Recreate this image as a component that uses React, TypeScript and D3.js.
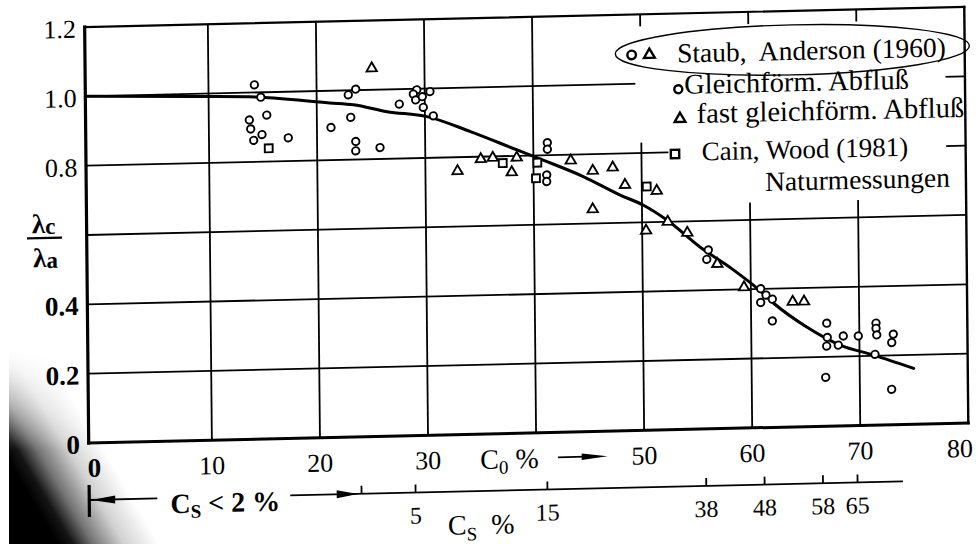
import React, { useEffect } from "react";
import * as d3 from "d3";

// ---------------- data ----------------
const xGridValues = [10, 20, 30, 40, 50, 60, 70];
const xTickValues = [0, 10, 20, 30, 50, 60, 70, 80];
const yGridValues = [0.2, 0.4, 0.6, 0.8, 1.0];
const yTickValues = [0, 0.2, 0.4, 0.8, 1.0, 1.2];
const yTickLabels = ["0", "0.2", "0.4", "0.8", "1.0", "1.2"];

// Staub, Anderson (1960) – gleichförmiger Abfluß (circles)
const gleichfoermig: [number, number][] = [
  [14.25, 1.022], [14.83, 0.986], [15.37, 0.934], [13.75, 0.921], [13.87, 0.895], [14.91, 0.878],
  [14.14, 0.862], [17.34, 0.867], [21.3, 0.894], [23.62, 1.003], [22.93, 0.987], [23.14, 0.922],
  [23.58, 0.852], [23.57, 0.825], [25.82, 0.833], [27.64, 0.957], [29.27, 0.997], [28.95, 0.985],
  [29.16, 0.968], [29.78, 0.977], [30.49, 0.991], [29.86, 0.946], [30.78, 0.921],
  [41.3, 0.836], [41.3, 0.817], [41.22, 0.743], [41.21, 0.724],
  [56.1, 0.516], [55.95, 0.489], [60.91, 0.401], [61.4, 0.382], [60.9, 0.361], [61.98, 0.37],
  [61.96, 0.307], [66.99, 0.297], [67.03, 0.256], [66.97, 0.231], [68.51, 0.259], [68.04, 0.233],
  [69.9, 0.258], [71.55, 0.294], [71.55, 0.279], [71.61, 0.26], [73.14, 0.261], [72.99, 0.237],
  [71.43, 0.204], [66.85, 0.141], [72.94, 0.102],
];

// Staub, Anderson (1960) – fast gleichförmiger Abfluß (triangles)
const fastGleichfoermig: [number, number][] = [
  [25.12, 1.062], [32.97, 0.76], [35.13, 0.793], [36.24, 0.796], [38.46, 0.795], [37.98, 0.753],
  [43.45, 0.783], [45.48, 0.752], [47.33, 0.76], [45.44, 0.641], [48.45, 0.709], [51.38, 0.69],
  [50.36, 0.576], [52.37, 0.6], [54.17, 0.567], [56.92, 0.475], [59.37, 0.406], [63.86, 0.361],
  [64.91, 0.361],
];

// Cain, Wood (1981) – Naturmessungen (squares)
const cainWood: [number, number][] = [
  [15.52, 0.838], [37.16, 0.78], [40.36, 0.779], [40.22, 0.734], [50.46, 0.703],
];

// fitted curve
const trendCurve: [number, number][] = [
  [-1.4, 1.0], [9.2, 0.992], [14.8, 0.986], [21.2, 0.965], [23.4, 0.958], [26.5, 0.936],
  [30.2, 0.919], [34.2, 0.873], [38.5, 0.817], [40.9, 0.786], [44.6, 0.736], [48.0, 0.68],
  [50.1, 0.65], [52.3, 0.605], [55.3, 0.526], [58.4, 0.457], [60.6, 0.402], [62.1, 0.358],
  [65.1, 0.288], [68.2, 0.233], [71.3, 0.202], [75.0, 0.161],
];

// secondary C_S axis: tick values and where they sit on the C_0 axis
const csTickValues = [2, 5, 15, 38, 48, 58, 65];
const csTickAtC0 = [23.8, 28.8, 41.0, 55.7, 61.1, 66.5, 69.7];
const csTickLabels = ["", "5", "15", "38", "48", "58", "65"];

const legendLabels = [
  "Staub,\u00a0 Anderson (1960)",
  "Gleichförm. Abfluß",
  "fast gleichförm. Abfluß",
  "Cain, Wood (1981)",
  "Naturmessungen",
];

// ---------------- layout ----------------
const W = 977;
const H = 544;
const X_MIN = -1.4;
const X_MAX = 80;
const FONT = '"Liberation Serif", "Times New Roman", Times, "DejaVu Serif", serif';
const SKEW = "matrix(1,-0.0228,0.0097,1,-4.3,2.03)";

const x = d3.scaleLinear().domain([X_MIN, X_MAX]).range([88.7, 968.3]);
const y = d3.scaleLinear().domain([0, 1.2]).range([443, 27]);

export default function App() {
  useEffect(() => {
    document.body.style.margin = "0";
  }, []);

  const curvePath = d3
    .line<[number, number]>()
    .x((d) => x(d[0]))
    .y((d) => y(d[1]))
    .curve(d3.curveMonotoneX)(trendCurve) as string;

  const triPath = d3.symbol().type(d3.symbolTriangle).size(46)() as string;
  const triLegend = d3.symbol().type(d3.symbolTriangle).size(50)() as string;
  const sqPath = d3.symbol().type(d3.symbolSquare).size(62)() as string;
  const sqLegend = d3.symbol().type(d3.symbolSquare).size(70)() as string;

  const csY = 500;
  const legendTextPos: [number, number][] = [
    [680.7, 76.1], [687.5, 107.5], [699.7, 136.9], [704.3, 174.5], [767.5, 206.4],
  ];
  const legendFontSize = [27.5, 28.5, 28.6, 27, 27.5];

  return (
    <svg
      width={W}
      height={H}
      viewBox={`0 0 ${W} ${H}`}
      style={{ position: "fixed", left: 0, top: 0, display: "block", background: "#fff", fontFamily: FONT }}
    >
      <defs>
        <linearGradient id="scanShadow" gradientUnits="userSpaceOnUse" x1={112} y1={463} x2={36} y2={508}>
          <stop offset="0" stopColor="#000" stopOpacity={0} />
          <stop offset="0.35" stopColor="#000" stopOpacity={0.18} />
          <stop offset="0.65" stopColor="#000" stopOpacity={0.55} />
          <stop offset="0.85" stopColor="#000" stopOpacity={0.92} />
          <stop offset="1" stopColor="#000" stopOpacity={1} />
        </linearGradient>
        <linearGradient id="shadowFade" gradientUnits="userSpaceOnUse" x1={0} y1={350} x2={0} y2={450}>
          <stop offset="0" stopColor="#000" />
          <stop offset="1" stopColor="#fff" />
        </linearGradient>
        <mask id="shadowMask" maskUnits="userSpaceOnUse" x={0} y={300} width={200} height={244}>
          <rect x={0} y={300} width={200} height={244} fill="url(#shadowFade)" />
        </mask>
      </defs>
      <rect x={0} y={0} width={W} height={H} fill="#fff" />
      <rect x={9} y={300} width={150} height={244} fill="url(#scanShadow)" mask="url(#shadowMask)" />

      <g transform={SKEW} style={{ fontFamily: FONT }}>
        {/* grid */}
        <g stroke="#000" strokeWidth={1.8}>
          {xGridValues.map((v) => (
            <line key={`gx${v}`} x1={x(v)} x2={x(v)} y1={y(0)} y2={y(1.2)} />
          ))}
          {yGridValues.map((v) => (
            <line key={`gy${v}`} x1={x(X_MIN)} x2={x(X_MAX)} y1={y(v)} y2={y(v)} />
          ))}
        </g>

        {/* white area behind the legend */}
        <rect x={x(49.5)} y={y(1.165)} width={x(78.2) - x(49.5)} height={y(0.83) - y(1.165)} fill="#fff" />
        <rect x={x(52.5)} y={y(0.83)} width={x(78.2) - x(52.5)} height={y(0.65) - y(0.83)} fill="#fff" />

        {/* frame */}
        <g stroke="#000" fill="none" strokeLinecap="square">
          <line x1={x(X_MIN)} x2={x(X_MAX)} y1={y(1.2)} y2={y(1.2)} strokeWidth={2.2} />
          <line x1={x(X_MAX)} x2={x(X_MAX)} y1={y(1.2)} y2={y(0)} strokeWidth={2.4} />
          <line x1={x(X_MIN)} x2={x(X_MAX)} y1={y(0)} y2={y(0)} strokeWidth={3} />
          <line x1={x(X_MIN)} x2={x(X_MIN)} y1={y(1.2)} y2={y(0)} strokeWidth={3.2} />
        </g>

        {/* curve */}
        <path d={curvePath} fill="none" stroke="#000" strokeWidth={3} strokeLinecap="round" />

        {/* markers */}
        <g stroke="#000" strokeWidth={1.9} fill="#fff">
          {gleichfoermig.map((d, i) => (
            <circle key={`c${i}`} cx={x(d[0])} cy={y(d[1])} r={3.7} />
          ))}
          {fastGleichfoermig.map((d, i) => (
            <path key={`t${i}`} d={triPath} transform={`translate(${x(d[0])},${y(d[1])})`} />
          ))}
          {cainWood.map((d, i) => (
            <path key={`s${i}`} d={sqPath} transform={`translate(${x(d[0])},${y(d[1])})`} />
          ))}
        </g>

        {/* y tick labels */}
        {yTickValues.map((v, i) => (
          <text
            key={`yl${v}`}
            x={80}
            y={y(v) + 10.5}
            textAnchor="end"
            fontSize={v <= 0.4 ? 27 : 26}
            fontWeight={v <= 0.4 ? "bold" : "normal"}
            fill="#000"
          >
            {yTickLabels[i]}
          </text>
        ))}

        {/* y axis title λc / λa */}
        <text x={34} y={232} fontSize={27} fontWeight="bold" fill="#000">
          λ<tspan fontSize={23} dy={1}>c</tspan>
        </text>
        <line x1={29} x2={64} y1={237} y2={237} stroke="#000" strokeWidth={2.2} />
        <text x={35} y={266} fontSize={27} fontWeight="bold" fill="#000">
          λ<tspan fontSize={23} dy={1}>a</tspan>
        </text>

        {/* x tick labels */}
        {xTickValues.map((v) => (
          <text
            key={`xl${v}`}
            x={x(v === 0 ? X_MIN + 0.5 : v === X_MAX ? 79.2 : v)}
            y={477}
            textAnchor="middle"
            fontSize={v === 0 ? 27 : 26}
            fontWeight={v === 0 ? "bold" : "normal"}
            fill="#000"
          >
            {v}
          </text>
        ))}

        {/* C0 % label with arrow */}
        <text x={x(34.8)} y={478} fontSize={28} fill="#000">
          C<tspan fontSize={19} dy={5}>0</tspan>
          <tspan dy={-5}>{"\u00a0%"}</tspan>
        </text>
        <line x1={x(42.0)} x2={x(44.5)} y1={468} y2={468} stroke="#000" strokeWidth={1.8} />
        <polygon
          points={`${x(46.6)},468 ${x(44.2)},${468 - 3.3} ${x(44.2)},${468 + 3.3}`}
          fill="#000"
        />

        {/* secondary C_S axis */}
        <g stroke="#000">
          <line x1={x(X_MIN)} x2={x(X_MIN)} y1={csY - 15} y2={csY + 17} strokeWidth={3.2} />
          <line x1={x(X_MIN)} x2={x(4.9)} y1={csY} y2={csY} strokeWidth={1.8} />
          <line x1={x(17.2)} x2={x(73.9)} y1={csY} y2={csY} strokeWidth={1.8} />
          {csTickValues.map((v, i) => (
            <line key={`cst${v}`} x1={x(csTickAtC0[i])} x2={x(csTickAtC0[i])} y1={csY - 8} y2={csY} strokeWidth={1.8} />
          ))}
        </g>
        <polygon
          points={`${x(X_MIN) + 2},${csY} ${x(1.0)},${csY - 4} ${x(1.0)},${csY + 4}`}
          fill="#000"
        />
        <polygon
          points={`${x(23.47)},${csY} ${x(21.5)},${csY - 4} ${x(21.5)},${csY + 4}`}
          fill="#000"
        />
        <text x={x(6.1)} y={515} fontSize={28} fontWeight="bold" fill="#000">
          C<tspan fontSize={19} dy={5}>S</tspan>
          <tspan dy={-5}>{" < 2 %"}</tspan>
        </text>
        {csTickLabels.map((lab, i) =>
          lab ? (
            <text key={`csl${i}`} x={x(csTickAtC0[i])} y={531} textAnchor="middle" fontSize={24} fill="#000">
              {lab}
            </text>
          ) : null
        )}
        <text x={x(31.76)} y={543} fontSize={28} fill="#000">
          C<tspan fontSize={19} dy={6}>S</tspan>
          <tspan dy={-6}>{"\u00a0\u00a0%"}</tspan>
        </text>

        {/* legend */}
        <g fill="#000">
          {legendLabels.map((lab, i) => (
            <text key={`lg${i}`} x={legendTextPos[i][0]} y={legendTextPos[i][1]} fontSize={legendFontSize[i]}>
              {lab}
            </text>
          ))}
        </g>
        <g stroke="#000" strokeWidth={2.4} fill="#fff">
          <circle cx={635.3} cy={67.4} r={4.3} />
          <path d={triLegend} transform="translate(653,67.6)" />
          <circle cx={681.6} cy={102.7} r={4} />
          <path d={triLegend} transform="translate(683,132.3)" />
          <path d={sqLegend} transform="translate(677.7,167.4)" />
        </g>
        <ellipse cx={796} cy={66} rx={177} ry={25} fill="none" stroke="#000" strokeWidth={1.4} />
      </g>
    </svg>
  );
}
